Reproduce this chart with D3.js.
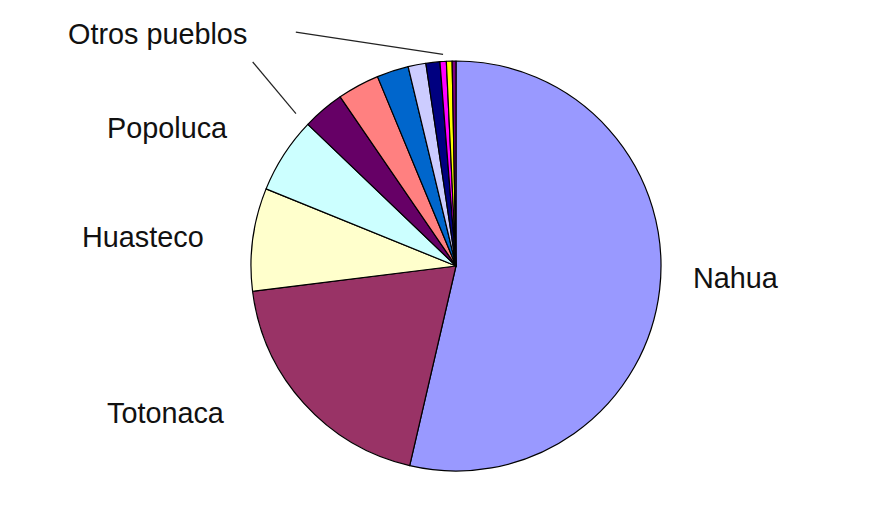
<!DOCTYPE html>
<html>
<head>
<meta charset="utf-8">
<script src="https://cdn.jsdelivr.net/npm/d3@7"></script>
<style>
  html, body { margin: 0; padding: 0; background: #fff; }
  svg { display: block; }
  text { font-family: "Liberation Sans", Arial, sans-serif; }
</style>
</head>
<body>
<svg id="chart" width="893" height="510"></svg>
<script>
// ---- data (percent share) ----
const categories = ["Nahua", "Totonaca", "Huasteco", "Popoluca", "Otro 5", "Otro 6", "Otro 7", "Otro 8", "Otro 9", "Otro 10", "Otro 11", "Otro 12"];
const values = [53.6, 19.4, 8.1, 6.0, 3.3, 3.3, 2.5, 1.4, 1.1, 0.5, 0.45, 0.3];
const colors = ["#9999FF", "#993366", "#FFFFCC", "#CCFFFF", "#660066", "#FF8080", "#0066CC", "#CCCCFF", "#000080", "#FF00FF", "#FFFF00", "#800080"];
const labelTexts = ["Nahua", "Totonaca", "Huasteco", "Popoluca", "Otros pueblos"];

// ---- layout ----
const W = 893, H = 510;
const cx = 456, cy = 266, R = 205;
const svg = d3.select("#chart");
const g = svg.append("g").attr("transform", `translate(${cx},${cy})`);

const data = categories.map((c, i) => ({ name: c, value: values[i], color: colors[i] }));
const pie = d3.pie().sort(null).value(d => d.value);
const arc = d3.arc().innerRadius(0).outerRadius(R);

g.selectAll("path.slice")
  .data(pie(data))
  .join("path")
  .attr("class", "slice")
  .attr("d", arc)
  .attr("fill", d => d.data.color)
  .attr("stroke", "#000")
  .attr("stroke-width", 1.2)
  .attr("stroke-linejoin", "round");

// polar helper (angle in degrees clockwise from top)
const polar = (deg, r) => {
  const a = deg * Math.PI / 180;
  return [cx + r * Math.sin(a), cy - r * Math.cos(a)];
};

// leader lines
const leaders = [
  { from: [325.6, 283.5], to: [356.5, 212] },
  { from: [315.1, 288], to: [313.6, 221] }
];
leaders.forEach(l => {
  const p1 = polar(l.from[0], l.from[1]);
  const p2 = polar(l.to[0], l.to[1]);
  svg.append("line")
    .attr("x1", p1[0]).attr("y1", p1[1])
    .attr("x2", p2[0]).attr("y2", p2[1])
    .attr("stroke", "#222").attr("stroke-width", 1.2);
});

// labels (offsets relative to pie centre)
const labelPos = [
  [237, 22],    // Nahua
  [-349, 157],  // Totonaca
  [-374, -19],  // Huasteco
  [-349, -128], // Popoluca
  [-388, -222]  // Otros pueblos
];
svg.selectAll("text.lbl")
  .data(labelTexts)
  .join("text")
  .attr("class", "lbl")
  .attr("x", (d, i) => cx + labelPos[i][0])
  .attr("y", (d, i) => cy + labelPos[i][1])
  .attr("font-size", 28.8)
  .attr("fill", "#111")
  .text(d => d);
</script>
</body>
</html>
